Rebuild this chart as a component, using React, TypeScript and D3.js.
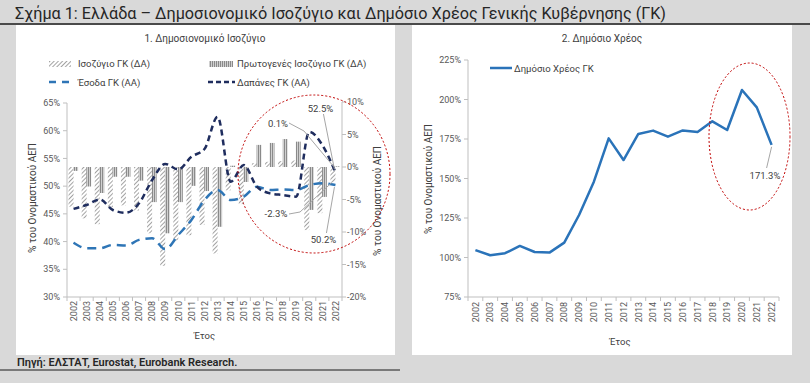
import React from "react";
import * as d3 from "d3";

const years = ["2002","2003","2004","2005","2006","2007","2008","2009","2010","2011","2012","2013","2014","2015","2016","2017","2018","2019","2020","2021","2022"];
const balance = [-6.1,-7.9,-8.8,-6.2,-5.9,-6.7,-10.2,-15.2,-11.3,-10.5,-8.9,-13.3,-3.6,-5.7,0.6,0.8,0.9,1.0,-9.7,-7.1,-2.3];
const primaryBalance = [-0.6,-3.0,-4.0,-1.5,-1.5,-2.1,-5.4,-10.2,-5.4,-2.9,-3.7,-9.2,0.2,-2.3,3.4,3.7,4.3,3.9,-6.6,-4.6,0.1];
const revenue = [39.8,38.8,38.8,39.4,39.3,40.3,40.6,38.6,41.2,43.9,47.5,49.3,47.5,48.1,49.9,49.3,49.4,49.3,50.2,50.5,50.2];
const spending = [45.9,46.6,47.6,45.7,45.2,46.9,51.1,54.0,53.0,55.3,56.7,62.5,50.8,53.8,49.9,48.7,48.4,48.1,59.8,57.4,52.5];
const debt = [104.7,101.4,102.7,107.3,103.5,103.1,109.4,126.9,148.0,175.4,161.7,178.2,180.3,176.5,180.4,179.4,186.2,180.7,206.0,195.0,171.3];
const leftTicks = [30,35,40,45,50,55,60,65];
const rightTicks = [-20,-15,-10,-5,0,5,10];
const debtTicks = [75,100,125,150,175,200,225];

const FONT = "Roboto, 'Noto Sans', sans-serif";
const TXT = "#595959";
const AX = "#bfbfbf";

export default function App() {
  // Left chart scales
  const x1 = d3.scaleBand().domain(years).range([67, 342]).padding(0);
  const yL = d3.scaleLinear().domain([30, 65]).range([297, 103]);
  const yR = d3.scaleLinear().domain([-20, 10]).range([297, 102]);
  const c1 = (i: number) => (x1(years[i]) as number) + x1.bandwidth() / 2;

  const smooth = d3.line<number>().x((_, i) => c1(i)).y((v) => yL(v)).curve(d3.curveMonotoneX);

  // Right chart scales
  const x2 = d3.scaleBand().domain(years).range([468, 779]).padding(0);
  const yD = d3.scaleLinear().domain([75, 225]).range([297, 60]);
  const c2 = (i: number) => (x2(years[i]) as number) + x2.bandwidth() / 2;
  const debtLine = d3.line<number>().x((_, i) => c2(i)).y((v) => yD(v));

  const last = years.length - 1;
  const lx = c1(last);

  return (
    <svg width={810} height={383} style={{ position: "absolute", left: 0, top: 0 }} fontFamily={FONT}>
      <defs>
        <pattern id="hatch" patternUnits="userSpaceOnUse" width={3} height={3} patternTransform="rotate(45)">
          <rect width={3} height={3} fill="#ffffff" />
          <line x1={0} y1={0} x2={0} y2={3} stroke="#8c8c8c" strokeWidth={1.6} />
        </pattern>
        <pattern id="vstripe" patternUnits="userSpaceOnUse" width={2} height={2}>
          <rect width={2} height={2} fill="#d0d0d0" />
          <line x1={0.5} y1={0} x2={0.5} y2={2} stroke="#8a8a8a" strokeWidth={1} />
        </pattern>
      </defs>
      <rect x={0} y={0} width={810} height={383} fill="#d9d9d9" />
      <line x1={0} x2={810} y1={24} y2={24} stroke="#1a1a1a" strokeWidth={1.5} />
      <text x={15} y={19} fontSize={16} fill="#262626" textLength={651} lengthAdjust="spacingAndGlyphs">
        Σχήμα 1: Ελλάδα – Δημοσιονομικό Ισοζύγιο και Δημόσιο Χρέος Γενικής Κυβέρνησης (ΓΚ)
      </text>

      {/* Panels */}
      <rect x={16} y={25} width={379} height={330} fill="#ffffff" />
      <rect x={412} y={25} width={380} height={330} fill="#ffffff" />

      {/* ===== Left chart ===== */}
      <text x={205} y={42} fontSize={10} fill="#404040" textAnchor="middle">1. Δημοσιονομικό Ισοζύγιο</text>
      {/* legend */}
      <rect x={49} y={61} width={22} height={6} fill="url(#hatch)" />
      <text x={78} y={67} fontSize={9.5} fill="#404040">Ισοζύγιο ΓΚ (ΔΑ)</text>
      <rect x={209} y={61} width={24} height={6} fill="url(#vstripe)" />
      <text x={237} y={67} fontSize={9.5} fill="#404040">Πρωτογενές Ισοζύγιο ΓΚ (ΔΑ)</text>
      <line x1={49} x2={71} y1={82} y2={82} stroke="#2e75b6" strokeWidth={2.5} strokeDasharray="7,6" />
      <text x={78} y={85.5} fontSize={9.5} fill="#404040">Έσοδα ΓΚ (ΑΑ)</text>
      <line x1={208} x2={235} y1={82} y2={82} stroke="#1f2d5e" strokeWidth={2.5} strokeDasharray="5,3" />
      <text x={237} y={85.5} fontSize={9.5} fill="#404040">Δαπάνες ΓΚ (ΑΑ)</text>

      {/* bars */}
      {balance.map((v, i) => (
        <rect key={"b" + i} x={c1(i) - 5} width={5} y={Math.min(yR(v), yR(0))} height={Math.abs(yR(v) - yR(0))} fill="url(#hatch)" />
      ))}
      {primaryBalance.map((v, i) => (
        <rect key={"p" + i} x={c1(i) - 0.3} width={4.8} y={Math.min(yR(v), yR(0))} height={Math.abs(yR(v) - yR(0))} fill="url(#vstripe)" />
      ))}

      {/* lines */}
      <path d={smooth(revenue) as string} fill="none" stroke="#2e75b6" strokeWidth={2.5} strokeDasharray="9,6" />
      <path d={smooth(spending) as string} fill="none" stroke="#1f2d5e" strokeWidth={2.5} strokeDasharray="6,4" />

      {/* left axis */}
      <line x1={67} x2={67} y1={yL(65)} y2={yL(30)} stroke={AX} />
      {leftTicks.map((t) => (
        <g key={"lt" + t}>
          <line x1={63} x2={67} y1={yL(t)} y2={yL(t)} stroke={AX} />
          <text x={60} y={yL(t) + 3.2} fontSize={9} fill={TXT} textAnchor="end">{t}%</text>
        </g>
      ))}
      {/* right axis */}
      <line x1={342} x2={342} y1={yR(10)} y2={yR(-20)} stroke={AX} />
      {rightTicks.map((t) => (
        <g key={"rt" + t}>
          <line x1={342} x2={346} y1={yR(t)} y2={yR(t)} stroke={AX} />
          <text x={347} y={yR(t) + 3.2} fontSize={9} fill={TXT}>{t}%</text>
        </g>
      ))}
      {/* x axis */}
      <line x1={67} x2={342} y1={297} y2={297} stroke={AX} />
      {years.map((y, i) => (
        <g key={"x1" + y}>
          <line x1={x1(y) as number} x2={x1(y) as number} y1={297} y2={301} stroke={AX} />
          <text transform={`translate(${c1(i) + 3.2},301) rotate(-90)`} fontSize={9} fill={TXT} textAnchor="end">{y}</text>
        </g>
      ))}
      <line x1={342} x2={342} y1={297} y2={301} stroke={AX} />
      <text x={204.5} y={339} fontSize={9.5} fill="#404040" textAnchor="middle">Έτος</text>
      <text transform="translate(36,198) rotate(-90)" fontSize={10} fill="#404040" textAnchor="middle">% του Ονομαστικού ΑΕΠ</text>
      <text transform="translate(381,201) rotate(-90)" fontSize={10} fill="#404040" textAnchor="middle">% του Ονομαστικού ΑΕΠ</text>

      {/* annotations left */}
      <ellipse cx={314} cy={174} rx={76} ry={79} fill="none" stroke="#c00000" strokeWidth={1} strokeDasharray="2,2" />
      <polyline points={`${lx - 12},114 ${lx - 1},${yL(spending[last]) - 3}`} fill="none" stroke="#a6a6a6" strokeWidth={1} />
      <text x={lx - 15} y={112} fontSize={9.5} fill="#404040" textAnchor="middle">52.5%</text>
      <polyline points={`289,123 304,131 ${lx - 2},${yR(primaryBalance[last])}`} fill="none" stroke="#a6a6a6" strokeWidth={1} />
      <text x={278} y={127} fontSize={9.5} fill="#404040" textAnchor="middle">0.1%</text>
      <polyline points={`289,214 300,212 ${lx - 3},${yR(balance[last])}`} fill="none" stroke="#a6a6a6" strokeWidth={1} />
      <text x={276} y={217} fontSize={9.5} fill="#404040" textAnchor="middle">-2.3%</text>
      <polyline points={`${lx - 9},233 ${lx - 1},${yL(revenue[last]) + 2}`} fill="none" stroke="#a6a6a6" strokeWidth={1} />
      <text x={lx - 12} y={243} fontSize={9.5} fill="#404040" textAnchor="middle">50.2%</text>

      {/* ===== Right chart ===== */}
      <text x={602} y={42} fontSize={10} fill="#404040" textAnchor="middle">2. Δημόσιο Χρέος</text>
      <line x1={490} x2={512} y1={68} y2={68} stroke="#2a73b9" strokeWidth={2.5} />
      <text x={514} y={71.5} fontSize={9.5} fill="#404040">Δημόσιο Χρέος ΓΚ</text>

      <path d={debtLine(debt) as string} fill="none" stroke="#2a73b9" strokeWidth={2.5} strokeLinejoin="round" />

      <line x1={468} x2={468} y1={yD(225)} y2={yD(75)} stroke={AX} />
      {debtTicks.map((t) => (
        <g key={"dt" + t}>
          <line x1={464} x2={468} y1={yD(t)} y2={yD(t)} stroke={AX} />
          <text x={461} y={yD(t) + 3.2} fontSize={9} fill={TXT} textAnchor="end">{t}%</text>
        </g>
      ))}
      <line x1={468} x2={779} y1={297} y2={297} stroke={AX} />
      {years.map((y, i) => (
        <g key={"x2" + y}>
          <line x1={x2(y) as number} x2={x2(y) as number} y1={297} y2={301} stroke={AX} />
          <text transform={`translate(${c2(i) + 3.2},302) rotate(-90)`} fontSize={9} fill={TXT} textAnchor="end">{y}</text>
        </g>
      ))}
      <line x1={779} x2={779} y1={297} y2={301} stroke={AX} />
      <text x={620} y={345} fontSize={9.5} fill="#404040" textAnchor="middle">Έτος</text>
      <text transform="translate(432,179) rotate(-90)" fontSize={10} fill="#404040" textAnchor="middle">% του Ονομαστικού ΑΕΠ</text>

      <ellipse cx={749.5} cy={136.5} rx={40.5} ry={73.5} fill="none" stroke="#c00000" strokeWidth={1} strokeDasharray="2,2" />
      <polyline points={`${c2(last)},${yD(debt[last]) + 2} ${c2(last) - 5},168`} fill="none" stroke="#a6a6a6" strokeWidth={1} />
      <text x={765} y={179} fontSize={9.5} fill="#404040" textAnchor="middle">171.3%</text>

      {/* footer */}
      <text x={17} y={366} fontSize={11} fontWeight={600} fill="#262626">Πηγή: ΕΛΣΤΑΤ, Eurostat, Eurobank Research.</text>
      <line x1={0} x2={400} y1={370} y2={370} stroke="#1a1a1a" strokeWidth={1} />
    </svg>
  );
}
